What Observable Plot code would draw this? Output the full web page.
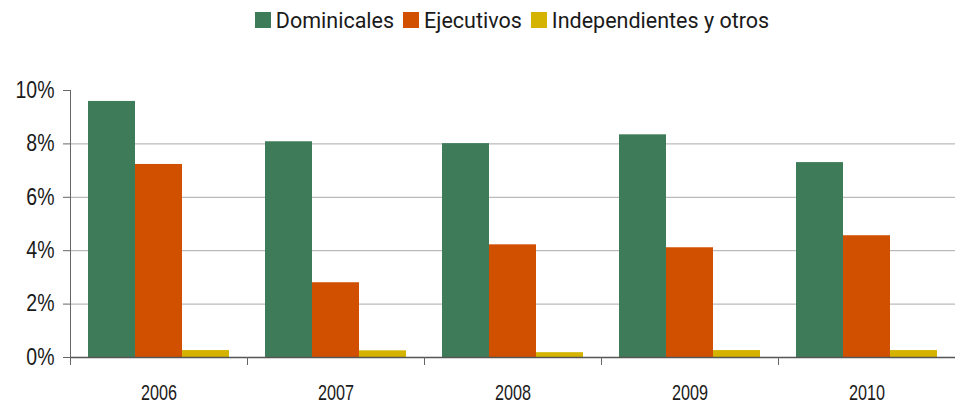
<!DOCTYPE html>
<html>
<head>
<meta charset="utf-8">
<script src="https://cdn.jsdelivr.net/npm/d3@7"></script>
<script src="https://cdn.jsdelivr.net/npm/@observablehq/plot@0.6"></script>
<style>
  html, body { margin: 0; padding: 0; background: #fff; }
  #legend {
    height: 40px; display: flex; justify-content: center; align-items: center;
    margin-left: 69px; font-family: Roboto, sans-serif; font-size: 21.5px; color: #1a1a1a;
    box-sizing: border-box;
  }
  .item { display: flex; align-items: center; margin: 0 4.5px; }
  .sw { width: 16px; height: 16px; margin-right: 5px; }
</style>
</head>
<body>
<div id="legend"></div>
<div id="chart"></div>
<script>
const years = ["2006", "2007", "2008", "2009", "2010"];
const seriesNames = ["Dominicales", "Ejecutivos", "Independientes y otros"];
const dominicales = [9.59, 8.08, 8.01, 8.34, 7.30];
const ejecutivos = [7.23, 2.80, 4.22, 4.11, 4.56];
const independientes = [0.26, 0.25, 0.18, 0.26, 0.26];
const yTicks = [0, 2, 4, 6, 8, 10];
const gridTicks = [2, 4, 6, 8];
const colors = ["#3e7c59", "#d05000", "#d4b400"];

const seriesValues = [dominicales, ejecutivos, independientes];
const data = [];
years.forEach((year, i) => {
  seriesNames.forEach((s, j) => data.push({year, series: s, value: seriesValues[j][i]}));
});

const legend = document.getElementById("legend");
seriesNames.forEach((s, j) => {
  const it = document.createElement("div");
  it.className = "item";
  const sw = document.createElement("div");
  sw.className = "sw";
  sw.style.background = colors[j];
  const t = document.createElement("span");
  t.textContent = s;
  it.appendChild(sw); it.appendChild(t);
  legend.appendChild(it);
});

const chart = Plot.plot({
  width: 955,
  height: 365,
  marginTop: 50,
  marginBottom: 48,
  marginLeft: 69,
  marginRight: 0,
  style: {fontFamily: "'Liberation Sans', sans-serif", fontSize: "23px", color: "#1a1a1a", background: "#fff"},
  fx: {domain: years, padding: 0, label: null},
  x: {domain: seriesNames, paddingInner: 0, paddingOuter: 0.373, axis: null},
  y: {domain: [0, 10], label: null},
  color: {domain: seriesNames, range: colors},
  marks: [
    Plot.gridY(gridTicks, {stroke: "#aaaaaa", strokeOpacity: 1, strokeWidth: 1}),
    Plot.barY(data, {fx: "year", x: "series", y: "value", fill: "series"}),
    Plot.ruleY([0], {stroke: "#555555", strokeWidth: 1.5}),
    Plot.frame({anchor: "left", stroke: "#666666", strokeOpacity: 1, insetTop: 267, insetBottom: -7}),
    Plot.frame({anchor: "left", fx: () => years[0], stroke: "#666666", strokeOpacity: 1, insetBottom: -7}),
    Plot.axisY({ticks: yTicks, tickFormat: d => d + "%", tickSize: 7, tickPadding: 9, stroke: "#666666", strokeOpacity: 1, fontSize: 23, label: null}),
    Plot.axisFx({anchor: "bottom", tickSize: 0, tickPadding: 27, fontSize: 22, label: null})
  ]
});
document.getElementById("chart").appendChild(chart);

// condense axis label glyphs to match the narrow typeface of the original
function condense(selector, refText, target) {
  const texts = Array.from(chart.querySelectorAll(selector));
  const ref = texts.find(t => t.textContent === refText) || texts[0];
  if (!ref) return;
  const f = target / ref.getComputedTextLength();
  texts.forEach(t => {
    const w = t.getComputedTextLength();
    t.setAttribute("textLength", w * f);
    t.setAttribute("lengthAdjust", "spacingAndGlyphs");
  });
}
condense("g[aria-label='fx-axis tick label'] text", "2006", 36);
condense("g[aria-label='y-axis tick label'] text", "10%", 39);
</script>
</body>
</html>
